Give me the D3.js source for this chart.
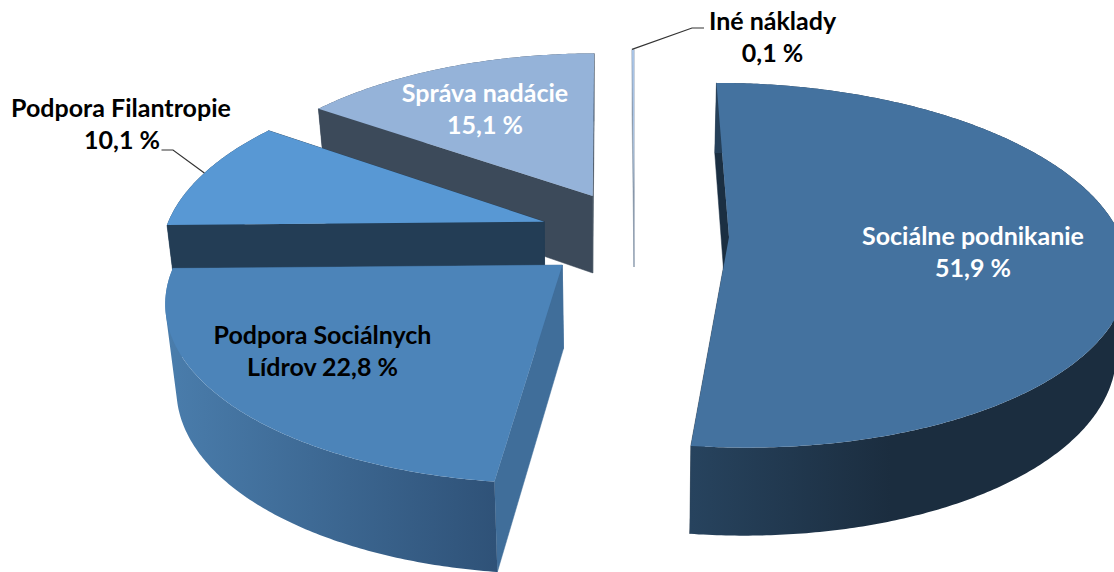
<!DOCTYPE html>
<html>
<head>
<meta charset="utf-8">
<style>
  html, body { margin: 0; padding: 0; background: #fff; }
  svg { display: block; overflow: hidden; }
  text { font-family: Lato, "Open Sans", sans-serif; font-weight: 700; font-size: 25px; text-anchor: middle; }
</style>
<script src="https://cdn.jsdelivr.net/npm/d3@7/dist/d3.min.js"></script>
</head>
<body>
<svg id="chart" width="1114" height="572"></svg>
<script>
"use strict";

const categories = ["Sociálne podnikanie", "Podpora Sociálnych", "Podpora Filantropie", "Správa nadácie", "Iné náklady"];
const shares = [51.9, 22.8, 10.1, 15.1, 0.1];

// Every slice has its own perspective in the original, so each gets its own frame.
const frames = [
  {cx: 729, cy: 237, rx: 392, shear: -14.5, ry: 178, k: 0.155, drop: 79, dropTilt: 9, shift: -2},
  {cx: 562.3, cy: 265, rx: 388, shear: 8.9, ry: 177, k: 0.19, drop: 83.5, dropTilt: 7, shift: 1.2},
  {cx: 544.3, cy: 221.7, rx: 376, shear: 1.6, ry: 175, k: 0.19, drop: 80, dropTilt: 9, shift: 0.5},
  {cx: 592.7, cy: 196, rx: 368, shear: 4, ry: 164, k: 0.15, drop: 77, dropTilt: 9, shift: 0},
  {cx: 634, cy: 192, rx: 368, shear: 0, ry: 164, k: 0.15, drop: 75, dropTilt: 9, shift: 0},
];

const topColors = ["#44729f", "#4c84b9", "#5898d4", "#95b3d9", "#a9c4e6"];
const edgeColors = ["#1b2f42", "#406e9a", "#233d55", "#3c4a5a", "#8796a8"];
const wallStops = [
  ["#27435e", "#1b2d3f"],
  ["#4a7dac", "#2f5278"],
  ["#233d55", "#233d55"],
  ["#3c4a5a", "#3c4a5a"],
  ["#8796a8", "#8796a8"],
];

const labels = [
  {color: "#fff", x: 973, lines: [[categories[0], 245], [percent(shares[0]), 277]]},
  {color: "#000", x: 322.5, lines: [[categories[1], 344], ["Lídrov " + percent(shares[1]), 376]]},
  {color: "#000", x: 121, lines: [[categories[2], 117]]},
  {color: "#000", x: 122, lines: [[percent(shares[2]), 149]]},
  {color: "#fff", x: 485, lines: [[categories[3], 102], [percent(shares[3]), 134]]},
  {color: "#000", x: 772.5, lines: [[categories[4], 30], [percent(shares[4]), 62]]},
];

function percent(v) {
  return v.toFixed(1).replace(".", ",") + " %";
}

const svg = d3.select("#chart");
const defs = svg.append("defs");
const line = d3.line().x(p => p[0]).y(p => p[1]);

const pie = d3.pie().sort(null).startAngle(0).endAngle(2 * Math.PI);
const slices = pie(shares);

function topPoint(f, angle, r) {
  const u = r * Math.sin(angle);
  const v = r * Math.cos(angle);
  const p = 1 / (1 + f.k * v);
  return [f.cx + (f.rx * u + f.shear * v) * p, f.cy - f.ry * v * p];
}

function bottomPoint(f, angle, r) {
  const t = topPoint(f, angle, r);
  const v = r * Math.cos(angle);
  return [f.cx + f.shift + (t[0] - f.cx) * 0.975, t[1] + f.drop - f.dropTilt * v];
}

function arcAngles(d) {
  const n = Math.max(2, Math.ceil((d.endAngle - d.startAngle) / 0.01));
  return d3.range(n + 1).map(i => d.startAngle + (d.endAngle - d.startAngle) * i / n);
}

function drawSlice(i) {
  const d = slices[i];
  const f = frames[i];
  const g = svg.append("g");
  const angles = arcAngles(d);

  // Radial walls
  [d.endAngle, d.startAngle].forEach(a => {
    g.append("path")
      .attr("d", line([topPoint(f, a, 1), bottomPoint(f, a, 1), bottomPoint(f, a, 0), topPoint(f, a, 0)]) + "Z")
      .attr("fill", edgeColors[i])
      .attr("stroke", edgeColors[i])
      .attr("stroke-width", 0.5);
  });

  // Outer wall: one path of small quads, all wound the same way, so there are no seams
  const xs = angles.map(a => topPoint(f, a, 1)[0]);
  const gradient = defs.append("linearGradient")
    .attr("id", `wall-${i}`)
    .attr("gradientUnits", "userSpaceOnUse")
    .attr("x1", d3.min(xs))
    .attr("x2", i == 0 ? d3.min(xs) + 200 : d3.max(xs))
    .attr("y1", 0)
    .attr("y2", 0);
  gradient.append("stop").attr("offset", 0).attr("stop-color", wallStops[i][0]);
  gradient.append("stop").attr("offset", 1).attr("stop-color", wallStops[i][1]);

  const quads = d3.pairs(angles).map(p => {
    const quad = [topPoint(f, p[0], 1), topPoint(f, p[1], 1), bottomPoint(f, p[1], 1), bottomPoint(f, p[0], 1)];
    return d3.polygonArea(quad) < 0 ? quad.reverse() : quad;
  });

  g.append("path")
    .attr("d", quads.map(q => line(q) + "Z").join(""))
    .attr("fill", `url(#wall-${i})`);

  // Top
  const outline = [topPoint(f, 0, 0)].concat(angles.map(a => topPoint(f, a, 1)));
  g.append("path")
    .attr("d", line(outline) + "Z")
    .attr("fill", topColors[i]);
}

[3, 4, 2, 1, 0].forEach(drawSlice);

// Leader lines
const tiny = topPoint(frames[4], slices[4].startAngle, 1);
const small = topPoint(frames[2], (slices[2].startAngle + slices[2].endAngle) / 2, 1);
[
  [tiny, [692, 28], [704, 28]],
  [[161.5, 150], [173, 150], small],
].forEach(points => {
  svg.append("path")
    .attr("d", line(points))
    .attr("fill", "none")
    .attr("stroke", "#333")
    .attr("stroke-width", 1.2);
});

// Labels
labels.forEach(label => {
  label.lines.forEach(l => {
    svg.append("text")
      .attr("x", label.x)
      .attr("y", l[1])
      .attr("fill", label.color)
      .text(l[0]);
  });
});
</script>
</body>
</html>
